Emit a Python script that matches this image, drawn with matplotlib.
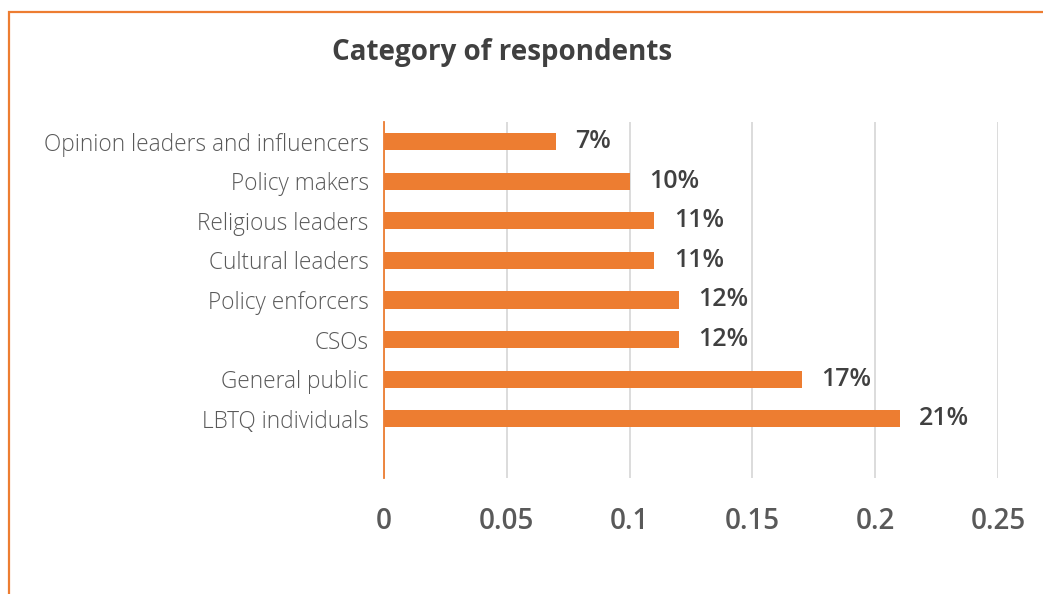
import matplotlib.pyplot as plt
from matplotlib.patches import Rectangle

# data, top to bottom as shown
categories = ["Opinion leaders and influencers", "Policy makers", "Religious leaders",
              "Cultural leaders", "Policy enforcers", "CSOs", "General public",
              "LBTQ individuals"]
shares = [0.07, 0.10, 0.11, 0.11, 0.12, 0.12, 0.17, 0.21]
share_labels = ["7%", "10%", "11%", "11%", "12%", "12%", "17%", "21%"]
xticks = [0, 0.05, 0.1, 0.15, 0.2, 0.25]
xtick_labels = ["0", "0.05", "0.1", "0.15", "0.2", "0.25"]

orange = "#ED7D31"
grey = "#595959"
dark = "#404040"

plt.rcParams['font.family'] = ['Open Sans', 'DejaVu Sans']

fig = plt.figure(figsize=(10.43, 5.94), dpi=100)
ax = fig.add_axes([0.3682, 0.1953, 0.5887, 0.5993])

ypos = list(range(len(categories)))
ax.barh(ypos, shares, height=0.43, color=orange, zorder=3)

for y, v, lab in zip(ypos, shares, share_labels):
    ax.annotate(lab, xy=(v, y), xytext=(14, 0), textcoords="offset points",
                ha="left", va="center", fontsize=18, fontweight="semibold", color=dark)

ax.set_xlim(0, 0.25)
ax.set_ylim(8.5, -0.5)
ax.set_xticks(xticks)
ax.set_xticklabels(xtick_labels, fontsize=20, color=grey, fontweight="semibold")
ax.set_yticks(ypos)
ax.set_yticklabels(categories, fontsize=16.3, color=grey, fontweight="light")
ax.tick_params(axis="x", length=0, pad=21)
ax.tick_params(axis="y", length=0, pad=11)

ax.grid(axis="x", color="#D9D9D9", linewidth=1.3, zorder=0)
for s in ["top", "right", "bottom"]:
    ax.spines[s].set_visible(False)
ax.spines["left"].set_color(orange)
ax.spines["left"].set_linewidth(1.3)
ax.spines["left"].set_zorder(4)

fig.text(0.481, 0.911, "Category of respondents", ha="center", va="center",
         fontsize=20, fontweight="bold", color=dark)

# chart border (only top and left show inside the image)
fig.patches.append(Rectangle((0.0086, -0.05), 1.1, 0.9798 + 0.05, transform=fig.transFigure,
                             fill=False, edgecolor=orange, linewidth=1.6))

fig.savefig("out.png", dpi=100)
